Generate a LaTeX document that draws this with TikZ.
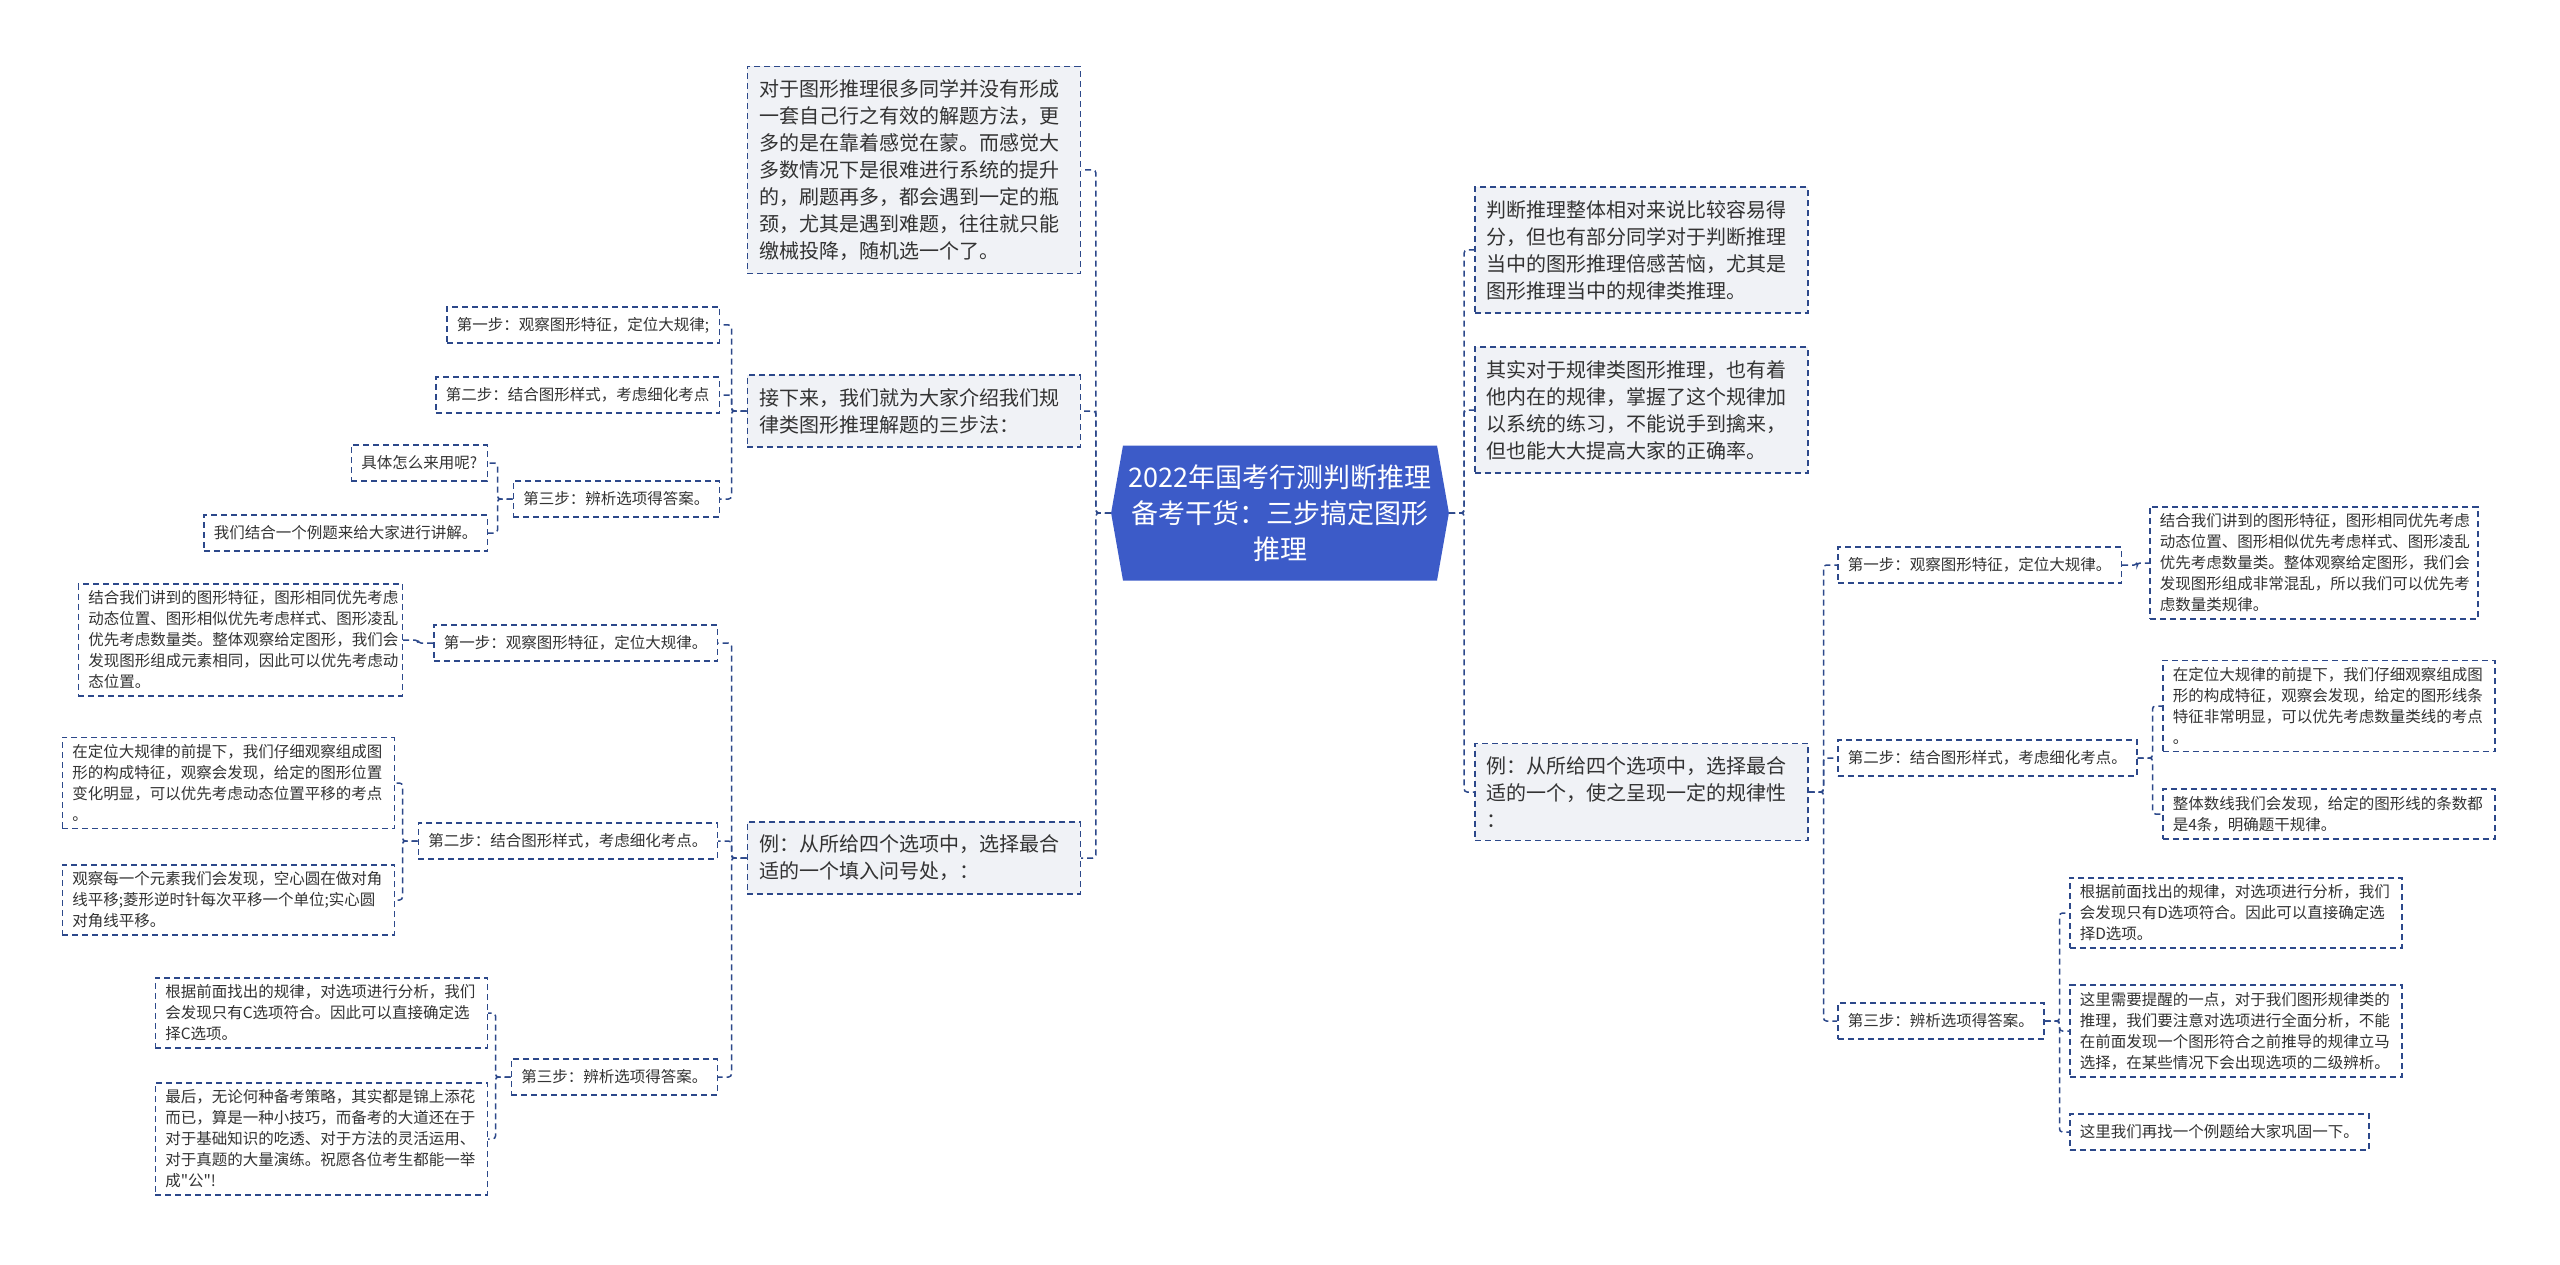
\documentclass[tikz,border=0pt]{standalone}
\usepackage{fontspec}
\setmainfont{Noto Sans CJK SC}[Ligatures=TeXOff]
\usetikzlibrary{shapes.symbols}
\definecolor{linkblue}{RGB}{44,72,138}
\definecolor{boxgray}{RGB}{240,242,246}
\definecolor{rootblue}{RGB}{60,91,200}
\definecolor{textgray}{RGB}{51,51,51}
\tikzset{
  link/.style={draw=linkblue,line width=1.5pt,dash pattern=on 6pt off 4pt,rounded corners=3pt},
  topic/.style={draw=linkblue,line width=1.5pt,dash pattern=on 6pt off 4pt,fill=boxgray,text=textgray,
    font=\fontsize{20}{27}\selectfont,align=left,text width=309pt,inner xsep=12pt,inner ysep=13pt},
  leaf/.style={draw=linkblue,line width=1.5pt,dash pattern=on 6pt off 4pt,fill=white,text=textgray,
    font=\fontsize{15.5}{21}\selectfont,align=left,inner xsep=10pt,inner ysep=7pt},
  stepbox/.style={leaf,minimum height=36pt},
  note/.style={leaf,text width=312pt},
  rootbox/.style={signal,signal to=west and east,signal pointer angle=160,fill=rootblue,text=white,
    font=\fontsize{27}{36}\selectfont,align=center,text width=310pt,inner xsep=2pt,minimum height=135pt}
}
\begin{document}
\begin{tikzpicture}[x=1pt,y=-1pt]
            \useasboundingbox (0,0) rectangle (2560,1265);
            \fill[white] (0,0) rectangle (2560,1265);
            \node[rootbox](root) at (1280,513){2022年国考行测判断推理\\备考干货：三步搞定图形\\推理};
            \node[topic,anchor=east](A) at (1081,170){对于图形推理很多同学并没有形成\\一套自己行之有效的解题方法，更\\多的是在靠着感觉在蒙。而感觉大\\多数情况下是很难进行系统的提升\\的，刷题再多，都会遇到一定的瓶\\颈，尤其是遇到难题，往往就只能\\缴械投降，随机选一个了。};
            \node[topic,anchor=east](B) at (1081,411){接下来，我们就为大家介绍我们规\\律类图形推理解题的三步法：};
            \node[topic,anchor=east](C) at (1081,858){例：从所给四个选项中，选择最合\\适的一个填入问号处，：};
            \node[stepbox,anchor=east](B1) at (720,325){第一步：观察图形特征，定位大规律;};
            \node[stepbox,anchor=east](B2) at (720,395){第二步：结合图形样式，考虑细化考点};
            \node[stepbox,anchor=east](B3) at (720,499){第三步：辨析选项得答案。};
            \node[stepbox,anchor=east](B31) at (488,463){具体怎么来用呢?};
            \node[stepbox,anchor=east](B32) at (488,533){我们结合一个例题来给大家进行讲解。};
            \node[stepbox,anchor=east](C1) at (718,643){第一步：观察图形特征，定位大规律。};
            \node[stepbox,anchor=east](C2) at (718,841){第二步：结合图形样式，考虑细化考点。};
            \node[stepbox,anchor=east](C3) at (718,1077){第三步：辨析选项得答案。};
            \node[note,anchor=east,text width=304pt](C11) at (403,640){结合我们讲到的图形特征，图形相同优先考虑\\动态位置、图形相似优先考虑样式、图形凌乱\\优先考虑数量类。整体观察给定图形，我们会\\发现图形组成元素相同，因此可以优先考虑动\\态位置。};
            \node[note,anchor=east](C21) at (395,783){在定位大规律的前提下，我们仔细观察组成图\\形的构成特征，观察会发现，给定的图形位置\\变化明显，可以优先考虑动态位置平移的考点\\。};
            \node[note,anchor=east](C22) at (395,900){观察每一个元素我们会发现，空心圆在做对角\\线平移;菱形逆时针每次平移一个单位;实心圆\\对角线平移。};
            \node[note,anchor=east](C31) at (488,1013){根据前面找出的规律，对选项进行分析，我们\\会发现只有C选项符合。因此可以直接确定选\\择C选项。};
            \node[note,anchor=east](C32) at (488,1139){最后，无论何种备考策略，其实都是锦上添花\\而已，算是一种小技巧，而备考的大道还在于\\对于基础知识的吃透、对于方法的灵活运用、\\对于真题的大量演练。祝愿各位考生都能一举\\成"公"!};
            \node[topic,anchor=west](D) at (1474,250){判断推理整体相对来说比较容易得\\分，但也有部分同学对于判断推理\\当中的图形推理倍感苦恼，尤其是\\图形推理当中的规律类推理。};
            \node[topic,anchor=west](E) at (1474,410){其实对于规律类图形推理，也有着\\他内在的规律，掌握了这个规律加\\以系统的练习，不能说手到擒来，\\但也能大大提高大家的正确率。};
            \node[topic,anchor=west](F) at (1474,792){例：从所给四个选项中，选择最合\\适的一个，使之呈现一定的规律性\\：};
            \node[stepbox,anchor=west](F1) at (1837,565){第一步：观察图形特征，定位大规律。};
            \node[stepbox,anchor=west](F2) at (1837,758){第二步：结合图形样式，考虑细化考点。};
            \node[stepbox,anchor=west](F3) at (1837,1021){第三步：辨析选项得答案。};
            \node[note,anchor=west,text width=308pt](F11) at (2149,563){结合我们讲到的图形特征，图形相同优先考虑\\动态位置、图形相似优先考虑样式、图形凌乱\\优先考虑数量类。整体观察给定图形，我们会\\发现图形组成非常混乱，所以我们可以优先考\\虑数量类规律。};
            \node[note,anchor=west](F21) at (2162,706){在定位大规律的前提下，我们仔细观察组成图\\形的构成特征，观察会发现，给定的图形线条\\特征非常明显，可以优先考虑数量类线的考点\\。};
            \node[note,anchor=west](F22) at (2162,814){整体数线我们会发现，给定的图形线的条数都\\是4条，明确题干规律。};
            \node[note,anchor=west](F31) at (2069,913){根据前面找出的规律，对选项进行分析，我们\\会发现只有D选项符合。因此可以直接确定选\\择D选项。};
            \node[note,anchor=west](F32) at (2069,1031){这里需要提醒的一点，对于我们图形规律类的\\推理，我们要注意对选项进行全面分析，不能\\在前面发现一个图形符合之前推导的规律立马\\选择，在某些情况下会出现选项的二级辨析。};
            \node[stepbox,anchor=west](F33) at (2069,1132){这里我们再找一个例题给大家巩固一下。};
            \foreach \p/\c in {root/A,root/B,root/C,B/B1,B/B2,B/B3,B3/B31,B3/B32,C/C1,C/C2,C/C3,C1/C11,C2/C21,C2/C22,C3/C31,C3/C32}
                \draw[link](\p.west) -- ++(-15,0) |- (\c.east);
            \foreach \p/\c in {root/D,root/E,root/F,F/F1,F/F2,F/F3,F1/F11,F2/F21,F2/F22,F3/F31,F3/F32,F3/F33}
                \draw[link](\p.east) -- ++(15,0) |- (\c.west);
        \end{tikzpicture}
\end{document}
